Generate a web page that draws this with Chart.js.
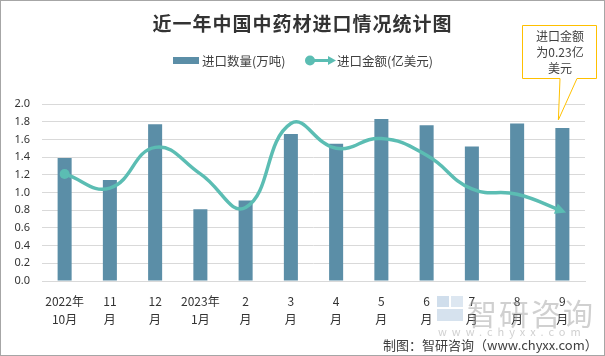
<!DOCTYPE html>
<html><head><meta charset="utf-8">
<script src="https://cdn.jsdelivr.net/npm/chart.js@4/dist/chart.umd.min.js"></script>
<style>
html,body{margin:0;padding:0;background:#fff;}
#wrap{position:relative;width:605px;height:356px;box-sizing:border-box;border:1px solid #a6a6a6;overflow:hidden;font-family:"Noto Sans CJK SC","Noto Sans",sans-serif;}
canvas{position:absolute;left:0;top:0;}
.t{position:absolute;white-space:nowrap;}
#title{left:0;width:603px;top:8px;text-align:center;font-size:19px;font-weight:bold;color:#333;letter-spacing:1px;}
.lg{top:50px;font-size:12.5px;color:#404040;}
#note{left:522px;width:74px;top:27px;text-align:center;font-size:12px;line-height:16px;color:#404040;}
#src{left:382px;top:334px;font-size:13px;color:#404040;}
#wm1{left:466px;top:289px;font-size:30px;color:rgba(150,150,150,0.45);letter-spacing:2px;}
#wm2{left:437px;top:322px;font-size:11px;color:rgba(150,150,150,0.45);letter-spacing:5px;}
</style></head>
<body><div id="wrap">
<canvas id="c" width="603" height="354"></canvas>
<div class="t" id="title">近一年中国中药材进口情况统计图</div>
<svg class="t" style="left:172px;top:55px" width="27" height="9"><rect x="0" y="1" width="26" height="7" fill="#5b8ea7"/></svg>
<div class="t lg" style="left:201px">进口数量(万吨)</div>
<svg class="t" style="left:302px;top:53px" width="34" height="13"><line x1="7" y1="6.5" x2="27" y2="6.5" stroke="#5bbdb3" stroke-width="3"/><circle cx="7" cy="6.5" r="5" fill="#5bbdb3"/><polygon points="33,6.5 25,2 25,11" fill="#5bbdb3"/></svg>
<div class="t lg" style="left:336px">进口金额(亿美元)</div>
<div class="t" id="wm1">智研咨询</div>
<div class="t" id="wm2">www.chyxx.com</div>
<svg class="t" style="left:436px;top:295px" width="28" height="26"><rect x="0" y="0" width="12" height="11" fill="rgba(120,160,200,0.35)"/><rect x="14" y="0" width="12" height="11" fill="rgba(120,160,200,0.25)"/><rect x="0" y="13" width="26" height="12" fill="rgba(120,160,200,0.3)"/></svg>
<div class="t" id="note">进口金额<br>为0.23亿<br>美元</div>
<div class="t" id="src">制图：智研咨询（www.chyxx.com）</div>
</div>
<script>
const categories = [["2022年","10月"],["11","月"],["12","月"],["2023年","1月"],["2","月"],["3","月"],["4","月"],["5","月"],["6","月"],["7","月"],["8","月"],["9","月"]];
const importVolume = [1.39,1.14,1.77,0.81,0.91,1.66,1.55,1.83,1.76,1.52,1.78,1.73];
const importValue = [1.21,1.05,1.51,1.21,0.83,1.78,1.50,1.61,1.42,1.04,0.98,0.79];
const yTicks = {min:0, max:2.0, step:0.2};

const teal = '#5bbdb3';
const arrowPlugin = {
  id:'arrowAndCallout',
  afterDatasetsDraw(chart){
    const ctx = chart.ctx;
    const meta = chart.getDatasetMeta(1);
    const pts = meta.data;
    const last = pts[pts.length-1];
    const cx = last.cp1x !== undefined ? last.cp1x : pts[pts.length-2].x;
    const cy = last.cp1y !== undefined ? last.cp1y : pts[pts.length-2].y;
    const ang = Math.atan2(last.y - cy, last.x - cx);
    ctx.save();
    ctx.translate(last.x, last.y);
    ctx.rotate(ang);
    ctx.fillStyle = teal;
    ctx.beginPath();
    ctx.moveTo(4,0); ctx.lineTo(-7,-5.5); ctx.lineTo(-7,5.5); ctx.closePath();
    ctx.fill();
    ctx.restore();
    const bar = chart.getDatasetMeta(0).data[pts.length-1];
    const tipX = bar.x - 4, tipY = bar.y - 8;
    ctx.save();
    ctx.strokeStyle = '#ffc000';
    ctx.fillStyle = '#fff';
    ctx.lineWidth = 1;
    ctx.beginPath();
    ctx.moveTo(521.5,24.5); ctx.lineTo(595.5,24.5); ctx.lineTo(595.5,77.5);
    ctx.lineTo(576,77.5); ctx.lineTo(tipX,tipY); ctx.lineTo(559,77.5);
    ctx.lineTo(521.5,77.5); ctx.closePath();
    ctx.fill(); ctx.stroke();
    ctx.restore();
  }
};

new Chart(document.getElementById('c'), {
  data:{
    labels: categories,
    datasets:[
      {type:'bar', label:'进口数量(万吨)', data: importVolume, backgroundColor:'#5b8ea7', barPercentage:0.62, categoryPercentage:0.5, order:2},
      {type:'line', label:'进口金额(亿美元)', data: importValue, borderColor: teal, borderWidth:3.5, tension:0.45,
       pointRadius: importValue.map((v,i)=> i===0 ? 5 : 0), pointBackgroundColor: teal, pointBorderWidth:0, order:1}
    ]
  },
  options:{
    responsive:false, animation:false,
    layout:{padding:{top:103, right:19, left:0, bottom:0}},
    plugins:{legend:{display:false}, tooltip:{enabled:false}},
    scales:{
      x:{
        grid:{display:false, drawTicks:false},
        border:{display:true, color:'#d9d9d9'},
        ticks:{color:'#333', font:{size:12, family:'"Noto Sans CJK SC","Noto Sans",sans-serif', lineHeight:1.5}, padding:11, maxRotation:0, autoSkip:false},
        afterFit(s){ s.height = 74; }
      },
      y:{
        min:yTicks.min, max:yTicks.max,
        grid:{color:'#d9d9d9', drawTicks:false},
        border:{display:false},
        ticks:{stepSize:yTicks.step, color:'#333', font:{size:11, family:'"Noto Sans","DejaVu Sans",sans-serif'}, padding:12, callback:v=>v.toFixed(1)},
        afterFit(s){ s.width = 41; }
      }
    }
  },
  plugins:[arrowPlugin]
});
</script>
</body></html>
